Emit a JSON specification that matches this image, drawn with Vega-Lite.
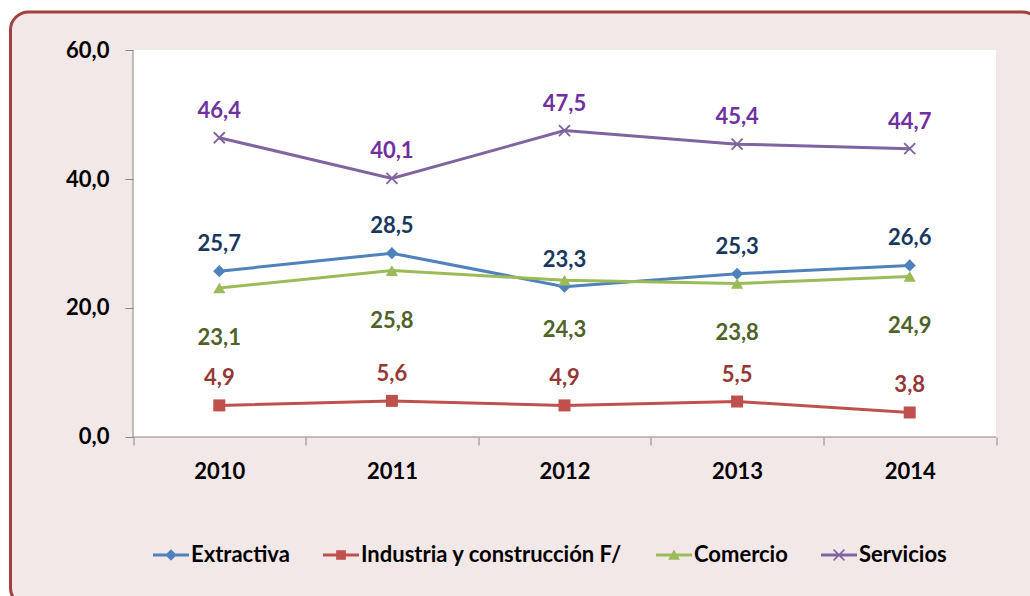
{
  "$schema": "https://vega.github.io/schema/vega-lite/v6.json",
  "width": 1030,
  "height": 594,
  "autosize": {"type": "none"},
  "padding": {"left": 10.5, "top": 12, "right": -10.5, "bottom": -10},
  "background": "#FFFFFF",
  "config": {
    "locale": {"number": {"decimal": ",", "thousands": ".", "grouping": [3], "currency": ["", " €"]}},
    "view": {"fill": "#F3E8E8", "stroke": "#A0403F", "strokeWidth": 3, "cornerRadius": 18},
    "font": "Lato"
  },
  "data": {
    "values": [
      {"year": 2010, "serie": "Extractiva", "value": 25.7},
      {"year": 2011, "serie": "Extractiva", "value": 28.5},
      {"year": 2012, "serie": "Extractiva", "value": 23.3},
      {"year": 2013, "serie": "Extractiva", "value": 25.3},
      {"year": 2014, "serie": "Extractiva", "value": 26.6},
      {"year": 2010, "serie": "Industria y construcción F/", "value": 4.9},
      {"year": 2011, "serie": "Industria y construcción F/", "value": 5.6},
      {"year": 2012, "serie": "Industria y construcción F/", "value": 4.9},
      {"year": 2013, "serie": "Industria y construcción F/", "value": 5.5},
      {"year": 2014, "serie": "Industria y construcción F/", "value": 3.8},
      {"year": 2010, "serie": "Comercio", "value": 23.1},
      {"year": 2011, "serie": "Comercio", "value": 25.8},
      {"year": 2012, "serie": "Comercio", "value": 24.3},
      {"year": 2013, "serie": "Comercio", "value": 23.8},
      {"year": 2014, "serie": "Comercio", "value": 24.9},
      {"year": 2010, "serie": "Servicios", "value": 46.4},
      {"year": 2011, "serie": "Servicios", "value": 40.1},
      {"year": 2012, "serie": "Servicios", "value": 47.5},
      {"year": 2013, "serie": "Servicios", "value": 45.4},
      {"year": 2014, "serie": "Servicios", "value": 44.7}
    ]
  },
  "layer": [
    {
      "data": {"values": [{}]},
      "mark": {"type": "rect", "fill": "#FFFFFF", "strokeWidth": 0},
      "encoding": {
        "x": {"datum": 2009.5, "type": "quantitative", "scale": {"domain": [2008.79026, 2014.75782], "nice": false, "zero": false}, "title": null},
        "x2": {"datum": 2014.5},
        "y": {"datum": 0, "type": "quantitative", "scale": {"domain": [-26.2016, 65.8915], "nice": false, "zero": false}, "title": null},
        "y2": {"datum": 60}
      }
    },
    {
      "data": {"values": [{}]},
      "mark": {"type": "rule", "color": "#868686", "strokeWidth": 1},
      "encoding": {
        "x": {"datum": 2009.5, "type": "quantitative", "scale": {"domain": [2008.79026, 2014.75782], "nice": false, "zero": false}, "title": null},
        "x2": {"datum": 2014.5},
        "y": {"datum": 0, "type": "quantitative", "scale": {"domain": [-26.2016, 65.8915], "nice": false, "zero": false}, "title": null}
      }
    },
    {
      "data": {"values": [{}]},
      "mark": {"type": "rule", "color": "#868686", "strokeWidth": 1},
      "encoding": {
        "x": {"datum": 2009.5, "type": "quantitative", "scale": {"domain": [2008.79026, 2014.75782], "nice": false, "zero": false}, "title": null},
        "y": {"datum": 0, "type": "quantitative", "scale": {"domain": [-26.2016, 65.8915], "nice": false, "zero": false}, "title": null},
        "y2": {"datum": 60}
      }
    },
    {
      "mark": {"type": "line", "strokeWidth": 3},
      "encoding": {
        "x": {
          "field": "year", "type": "quantitative", "title": null,
          "scale": {"domain": [2008.79026, 2014.75782], "nice": false, "zero": false},
          "axis": {
            "values": [2009.5, 2010, 2010.5, 2011, 2011.5, 2012, 2012.5, 2013, 2013.5, 2014, 2014.5],
            "offset": -169, "domain": false, "grid": false,
            "tickSize": 8, "tickColor": "#868686", "tickWidth": 1,
            "tickOpacity": {"condition": {"test": "datum.value % 1 !== 0", "value": 1}, "value": 0},
            "labelExpr": "datum.value % 1 === 0 ? format(datum.value, 'd') : ''",
            "labelOverlap": false, "labelFlush": false, "labelPadding": 16,
            "labelFont": "Lato", "labelFontSize": 22, "labelFontWeight": "bold", "labelColor": "#000000",
            "zindex": 1
          }
        },
        "y": {
          "field": "value", "type": "quantitative", "title": null,
          "scale": {"domain": [-26.2016, 65.8915], "nice": false, "zero": false},
          "axis": {
            "values": [0, 20, 40, 60], "format": ".1f",
            "offset": -122.5, "domain": false, "grid": false,
            "tickSize": 8, "tickColor": "#868686", "tickWidth": 1,
            "labelPadding": 16,
            "labelFont": "Lato", "labelFontSize": 22, "labelFontWeight": "bold", "labelColor": "#000000",
            "zindex": 1
          }
        },
        "color": {
          "field": "serie", "type": "nominal",
          "scale": {"domain": ["Extractiva", "Industria y construcción F/", "Comercio", "Servicios"], "range": ["#4F81BD", "#C0504D", "#9BBB59", "#8064A2"]},
          "legend": {
            "orient": "none", "legendX": 142.5, "legendY": 525, "direction": "horizontal",
            "title": null, "padding": 0, "symbolSize": 1296, "symbolType": "square",
            "labelFont": "Lato", "labelFontSize": 22, "labelFontWeight": "bold", "labelColor": "#000000",
            "labelOffset": 2, "columnPadding": 33, "labelLimit": 500,
            "encode": {
              "symbols": {
                "update": {
                  "shape": {"signal": "datum.value === 'Extractiva' ? 'M-1,-0.08L1,-0.08L1,0.08L-1,0.08Z M0,-0.32L0.32,0L0,0.32L-0.32,0Z' : datum.value === 'Comercio' ? 'M-1,-0.08L1,-0.08L1,0.08L-1,0.08Z M0,-0.3L0.33,0.27L-0.33,0.27Z' : datum.value === 'Servicios' ? 'M-1,-0.08L1,-0.08L1,0.08L-1,0.08Z M-0.27,-0.33L0.33,0.27L0.27,0.33L-0.33,-0.27Z M-0.33,0.27L0.27,-0.33L0.33,-0.27L-0.27,0.33Z' : 'M-1,-0.08L1,-0.08L1,0.08L-1,0.08Z M-0.27,-0.27L0.27,-0.27L0.27,0.27L-0.27,0.27Z'"},
                  "fill": {"signal": "datum.value === 'Extractiva' ? '#4F81BD' : datum.value === 'Comercio' ? '#9BBB59' : datum.value === 'Servicios' ? '#8064A2' : '#C0504D'"},
                  "stroke": {"value": "transparent"},
                  "strokeWidth": {"value": 0},
                  "opacity": {"value": 1},
                  "size": {"value": 1296}
                }
              }
            }
          }
        }
      }
    },
    {
      "transform": [{"filter": "datum.serie === 'Extractiva'"}],
      "mark": {"type": "point", "filled": true, "size": 150, "opacity": 1, "shape": "diamond", "color": "#4F81BD"},
      "encoding": {
        "x": {"field": "year", "type": "quantitative", "title": null, "scale": {"domain": [2008.79026, 2014.75782], "nice": false, "zero": false}},
        "y": {"field": "value", "type": "quantitative", "title": null, "scale": {"domain": [-26.2016, 65.8915], "nice": false, "zero": false}}
      }
    },
    {
      "transform": [{"filter": "datum.serie === 'Industria y construcción F/'"}],
      "mark": {"type": "point", "filled": true, "size": 144, "opacity": 1, "shape": "square", "color": "#C0504D"},
      "encoding": {
        "x": {"field": "year", "type": "quantitative", "title": null, "scale": {"domain": [2008.79026, 2014.75782], "nice": false, "zero": false}},
        "y": {"field": "value", "type": "quantitative", "title": null, "scale": {"domain": [-26.2016, 65.8915], "nice": false, "zero": false}}
      }
    },
    {
      "transform": [{"filter": "datum.serie === 'Comercio'"}],
      "mark": {"type": "point", "filled": true, "size": 150, "opacity": 1, "shape": "triangle-up", "color": "#9BBB59"},
      "encoding": {
        "x": {"field": "year", "type": "quantitative", "title": null, "scale": {"domain": [2008.79026, 2014.75782], "nice": false, "zero": false}},
        "y": {"field": "value", "type": "quantitative", "title": null, "scale": {"domain": [-26.2016, 65.8915], "nice": false, "zero": false}}
      }
    },
    {
      "transform": [{"filter": "datum.serie === 'Servicios'"}],
      "mark": {"type": "point", "filled": true, "size": 121, "opacity": 1, "shape": "M-0.88,-1.12L1.12,0.88L0.88,1.12L-1.12,-0.88Z M-1.12,0.88L0.88,-1.12L1.12,-0.88L-0.88,1.12Z", "color": "#8064A2"},
      "encoding": {
        "x": {"field": "year", "type": "quantitative", "title": null, "scale": {"domain": [2008.79026, 2014.75782], "nice": false, "zero": false}},
        "y": {"field": "value", "type": "quantitative", "title": null, "scale": {"domain": [-26.2016, 65.8915], "nice": false, "zero": false}}
      }
    },
    {
      "transform": [{"filter": "datum.serie !== 'Comercio'"}],
      "mark": {"type": "text", "dy": -27, "baseline": "middle", "align": "center", "font": "Lato", "fontSize": 22, "fontWeight": "bold"},
      "encoding": {
        "x": {"field": "year", "type": "quantitative", "title": null, "scale": {"domain": [2008.79026, 2014.75782], "nice": false, "zero": false}},
        "y": {"field": "value", "type": "quantitative", "title": null, "scale": {"domain": [-26.2016, 65.8915], "nice": false, "zero": false}},
        "text": {"field": "value", "type": "quantitative", "format": ".1f"},
        "fill": {
          "condition": [
            {"test": "datum.serie === 'Extractiva'", "value": "#17375E"},
            {"test": "datum.serie === 'Industria y construcción F/'", "value": "#953735"}
          ],
          "value": "#7030A0"
        }
      }
    },
    {
      "transform": [{"filter": "datum.serie === 'Comercio'"}],
      "mark": {"type": "text", "dy": 50, "baseline": "middle", "align": "center", "font": "Lato", "fontSize": 22, "fontWeight": "bold", "color": "#4F6228"},
      "encoding": {
        "x": {"field": "year", "type": "quantitative", "title": null, "scale": {"domain": [2008.79026, 2014.75782], "nice": false, "zero": false}},
        "y": {"field": "value", "type": "quantitative", "title": null, "scale": {"domain": [-26.2016, 65.8915], "nice": false, "zero": false}},
        "text": {"field": "value", "type": "quantitative", "format": ".1f"}
      }
    }
  ]
}
